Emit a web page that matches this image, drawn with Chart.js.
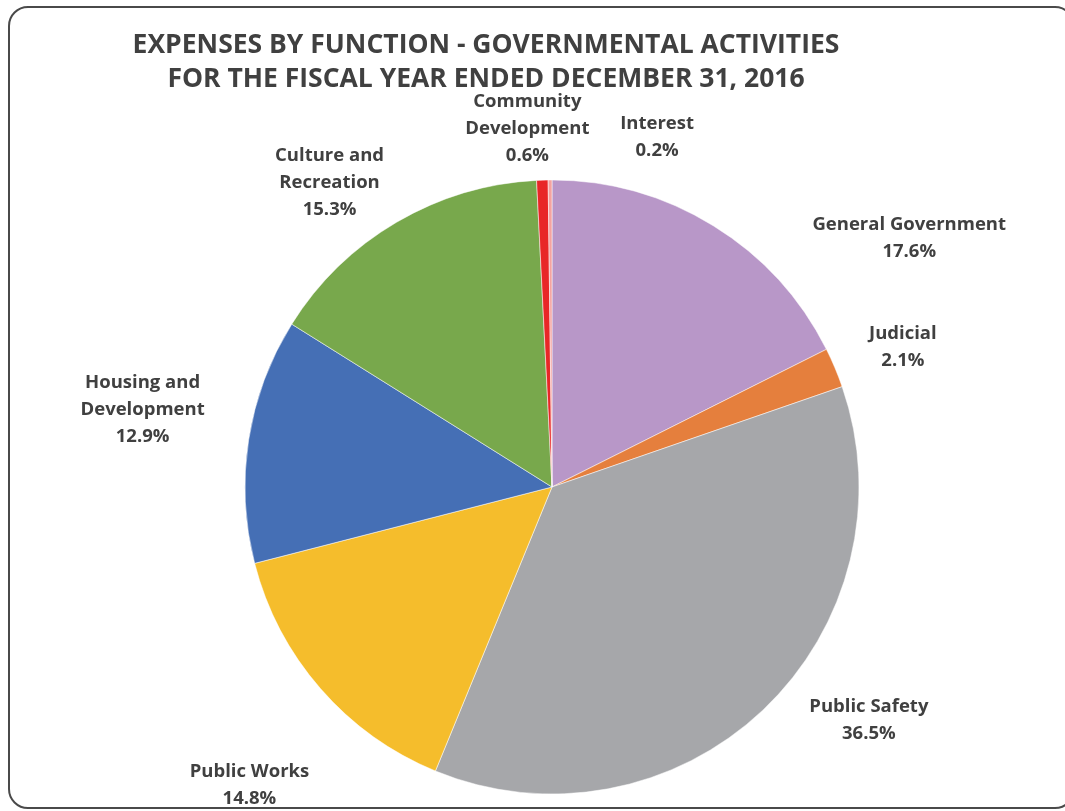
<!DOCTYPE html>
<html>
<head>
<meta charset="utf-8">
<script src="https://cdn.jsdelivr.net/npm/chart.js@4.4.1/dist/chart.umd.min.js"></script>
<style>
  html, body { margin: 0; padding: 0; background: #fff; overflow: hidden; }
  #wrap { position: relative; width: 1065px; height: 811px; overflow: hidden; }
  #pie { position: absolute; left: 0; top: 0; }
  .frame {
    position: absolute; left: 8px; top: 6px; width: 1063px; height: 799px;
    border: 2px solid #4a4a4a; border-radius: 20px; pointer-events: none;
  }
</style>
</head>
<body>
<div id="wrap">
  <canvas id="pie" width="1065" height="811"></canvas>
  <div class="frame"></div>
</div>
<script>
// expenses by function, share of total (%)
var categories = [
    ['General Government'],
    ['Judicial'],
    ['Public Safety'],
    ['Public Works'],
    ['Housing and', 'Development'],
    ['Culture and', 'Recreation'],
    ['Community', 'Development'],
    ['Interest']
];
var shares = [17.6, 2.1, 36.5, 14.8, 12.9, 15.3, 0.6, 0.2];
var sliceColors = ['#b897c8', '#e57f3d', '#a6a7aa', '#f5bd2c', '#456fb5', '#78a84c', '#e82727', '#f4a3a0'];

var titleLines = [
    'EXPENSES BY FUNCTION - GOVERNMENTAL ACTIVITIES',
    'FOR THE FISCAL YEAR ENDED DECEMBER 31, 2016'
];

// label nudges from the outer edge of each slice (x, y)
var labelNudge = [[196, 12], [68, -21], [106, 10], [-71, 97], [-106, -30], [-67, -40], [-15, -51], [107, -43]];

var textColor = '#404040';
var fontFamily = '"Open Sans", "DejaVu Sans", sans-serif';

var pieTitle = {
    id: 'pieTitle',
    afterDraw: function (chart) {
        var ctx = chart.ctx;
        ctx.save();
        ctx.fillStyle = textColor;
        ctx.font = 'bold 26.5px ' + fontFamily;
        ctx.textAlign = 'center';
        ctx.textBaseline = 'alphabetic';
        ctx.fillText(titleLines[0], 486, 53);
        ctx.fillText(titleLines[1], 486, 87);
        ctx.restore();
    }
};

var sliceLabels = {
    id: 'sliceLabels',
    afterDatasetsDraw: function (chart) {
        var ctx = chart.ctx;
        var meta = chart.getDatasetMeta(0);
        ctx.save();
        ctx.fillStyle = textColor;
        ctx.font = 'bold 18.5px ' + fontFamily;
        ctx.textAlign = 'center';
        ctx.textBaseline = 'middle';
        meta.data.forEach(function (arc, i) {
            var p = arc.getProps(['x', 'y', 'startAngle', 'endAngle', 'outerRadius'], true);
            var mid = (p.startAngle + p.endAngle) / 2;
            var cx = p.x + Math.cos(mid) * p.outerRadius + labelNudge[i][0];
            var cy = p.y + Math.sin(mid) * p.outerRadius + labelNudge[i][1];
            var lines = categories[i].concat([shares[i].toFixed(1) + '%']);
            var lh = 27;
            lines.forEach(function (t, k) {
                ctx.fillText(t, cx, cy + (k - (lines.length - 1) / 2) * lh);
            });
        });
        ctx.restore();
    }
};

var ctx = document.getElementById('pie').getContext('2d');
var chart = new Chart(ctx, {
    type: 'pie',
    data: {
        labels: categories,
        datasets: [{
            data: shares,
            backgroundColor: sliceColors,
            borderColor: '#ffffff',
            borderWidth: 0.5,
            radius: 307,
            hoverOffset: 0
        }]
    },
    options: {
        responsive: false,
        animation: false,
        layout: { padding: { top: 180, bottom: 17, left: 200, right: 161 } },
        plugins: {
            legend: { display: false },
            tooltip: { enabled: false }
        }
    },
    plugins: [sliceLabels, pieTitle]
});
</script>
</body>
</html>
